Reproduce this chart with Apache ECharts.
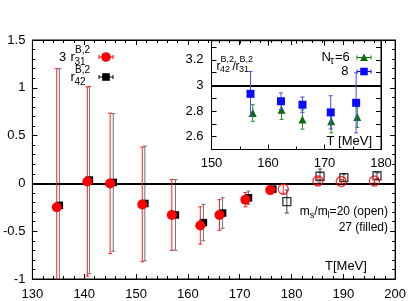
<!DOCTYPE html>
<html><head><meta charset="utf-8">
<script src="https://cdn.jsdelivr.net/npm/echarts@6/dist/echarts.min.js"></script>
<style>html,body{margin:0;padding:0;background:#fff}#c{width:409px;height:301px}</style>
</head><body><div id="c"></div>
<script>
// ---- main plot data: m_s/m_l = 27 (filled) ----
const r31T27 = [134.7, 140.6, 145.0, 151.2, 156.9, 162.4, 166.1, 171.1, 175.9];
const r31V27 = [-0.25, 0.02, 0.00, -0.22, -0.33, -0.44, -0.33, -0.17, -0.07];
const r31E27 = [1.45, 0.99, 0.735, 0.60, 0.37, 0.195, 0.16, 0.075, 0.03];
const r42T27 = [135.2, 141.0, 145.6, 151.7, 157.6, 163.0, 166.7, 171.7, 176.4];
const r42V27 = [-0.23, 0.035, 0.01, -0.21, -0.33, -0.41, -0.31, -0.15, -0.06];
const r42E27 = [1.43, 0.98, 0.72, 0.60, 0.37, 0.19, 0.16, 0.07, 0.03];
// ---- m_s/m_l = 20 (open) ----
const r31T20 = [178.4, 185.1, 189.6, 196.0];
const r31V20 = [-0.06, 0.025, 0.02, 0.025];
const r31E20 = [0.05, 0.04, 0.02, 0.02];
const r42T20 = [179.1, 185.5, 190.1, 196.5];
const r42V20 = [-0.19, 0.075, 0.06, 0.08];
const r42E20 = [0.12, 0.075, 0.035, 0.03];
// ---- inset: r42/r31 ----
const insNt8T = [156.9, 162.3, 166.1, 171.1, 175.6];
const insNt8V = [2.935, 2.877, 2.85, 2.79, 2.865];
const insNt8E = [0.175, 0.065, 0.06, 0.13, 0.235];
const insNt6T = [157.3, 162.4, 166.1, 171.2, 175.8];
const insNt6V = [2.785, 2.81, 2.734, 2.72, 2.753];
const insNt6E = [0.065, 0.075, 0.075, 0.09, 0.08];
// ---- ticks ----
const mainXTicks = {min: 130, max: 200, interval: 10};
const mainYTicks = {min: -1, max: 1.5, interval: 0.5};
const insXTicks = {min: 150, max: 180, interval: 10};
const insYTicks = {min: 2.5, max: 3.35, interval: 0.1};
const insYLabels = [2.6, 2.8, 3.0, 3.2];

const FONT = '"Liberation Sans", Arial, Helvetica, sans-serif';
const zip = (a, b, c) => a.map((v, i) => c ? [v, b[i], c[i]] : [v, b[i]]);
const mctx = document.createElement('canvas').getContext('2d');
function tw(s, size) { mctx.font = size + 'px ' + FONT; return mctx.measureText(s).width; }

function errSeries(xi, yi, T, V, E, color, cap, z) {
  return {
    type: 'custom', xAxisIndex: xi, yAxisIndex: yi, clip: true, z: z,
    data: zip(T, V, E), encode: {x: 0, y: 1},
    renderItem: function (params, api) {
      const x = api.value(0), y = api.value(1), e = api.value(2);
      const c = api.coord([x, y]), t = api.coord([x, y + e]), b = api.coord([x, y - e]);
      const st = {stroke: color, lineWidth: 1};
      return {type: 'group', children: [
        {type: 'line', shape: {x1: c[0], y1: t[1], x2: c[0], y2: b[1]}, style: st},
        {type: 'line', shape: {x1: c[0] - cap, y1: t[1], x2: c[0] + cap, y2: t[1]}, style: st},
        {type: 'line', shape: {x1: c[0] - cap, y1: b[1], x2: c[0] + cap, y2: b[1]}, style: st}
      ]};
    }
  };
}
function pts(xi, yi, T, V, symbol, size, color, open, z) {
  return {
    type: 'scatter', xAxisIndex: xi, yAxisIndex: yi, symbol: symbol, symbolSize: size, z: z,
    data: zip(T, V), silent: true,
    itemStyle: open ? {color: 'rgba(255,255,255,0)', borderColor: color, borderWidth: 1.3}
                    : {color: color, opacity: 1}
  };
}
function axisCommon(o) {
  return Object.assign({
    type: 'value',
    axisLine: {show: true, onZero: false, lineStyle: {color: '#000', width: 1}},
    axisTick: {show: true, inside: true, length: 5, lineStyle: {color: '#000'}},
    minorTick: {show: true, splitNumber: 5, length: 3, lineStyle: {color: '#000'}},
    splitLine: {show: false},
    axisLabel: {color: '#000', fontSize: 13, fontFamily: FONT}
  }, o);
}
function txt(x, y, s, size, align) {
  return {type: 'text', x: x, y: y, z: 100,
    style: {text: s, fill: '#000', fontSize: size, fontFamily: FONT, align: align || 'left', verticalAlign: 'middle'}};
}
function legendMark(x, y, symbol, color) {
  const st = {stroke: color, lineWidth: 1};
  const g = [
    {type: 'line', shape: {x1: x - 7, y1: y, x2: x + 7, y2: y}, style: st},
    {type: 'line', shape: {x1: x - 7, y1: y - 2, x2: x - 7, y2: y + 2}, style: st},
    {type: 'line', shape: {x1: x + 7, y1: y - 2, x2: x + 7, y2: y + 2}, style: st}
  ];
  if (symbol === 'circle') g.push({type: 'circle', shape: {cx: x, cy: y, r: 4.8}, style: {fill: color}});
  if (symbol === 'rect') g.push({type: 'rect', shape: {x: x - 3.8, y: y - 3.8, width: 7.6, height: 7.6}, style: {fill: color}});
  if (symbol === 'tri') g.push({type: 'polygon', shape: {points: [[x, y - 4], [x - 4, y + 3.5], [x + 4, y + 3.5]]}, style: {fill: color}});
  return {type: 'group', z: 100, children: g};
}
// right-aligned run of text pieces: [text, size, dy]
function run(xRight, y, pieces) {
  const out = [];
  let x = xRight;
  for (let i = pieces.length - 1; i >= 0; i--) {
    const p = pieces[i];
    x -= tw(p[0], p[1]);
    out.push(txt(x, y + p[2], p[0], p[1]));
  }
  return out;
}

const chart = echarts.init(document.getElementById('c'), null, {renderer: 'canvas'});
const option = {
  animation: false,
  backgroundColor: '#fff',
  grid: [
    {left: 32, top: 40, width: 365, height: 239, show: true, borderColor: '#000', borderWidth: 1, backgroundColor: '#fff'},
    {left: 211.5, top: 40.7, width: 169.5, height: 108.8, show: true, borderColor: '#000', borderWidth: 1, backgroundColor: 'rgba(255,255,255,0)'}
  ],
  xAxis: [
    axisCommon(Object.assign({gridIndex: 0, position: 'bottom', axisLabel: {color: '#000', fontSize: 13, fontFamily: FONT, margin: 9}}, mainXTicks)),
    axisCommon(Object.assign({gridIndex: 0, position: 'top', axisLabel: {show: false}}, mainXTicks)),
    axisCommon(Object.assign({gridIndex: 1, position: 'bottom', minorTick: {show: true, splitNumber: 2, length: 3, lineStyle: {color: '#000'}},
      axisLabel: {color: '#000', fontSize: 13, fontFamily: FONT, margin: 7}}, insXTicks)),
    axisCommon(Object.assign({gridIndex: 1, position: 'top', minorTick: {show: true, splitNumber: 2, length: 3, lineStyle: {color: '#000'}}, axisLabel: {show: false}}, insXTicks))
  ],
  yAxis: [
    axisCommon(Object.assign({gridIndex: 0, position: 'left', axisLabel: {color: '#000', fontSize: 13, fontFamily: FONT, margin: 7}}, mainYTicks)),
    axisCommon(Object.assign({gridIndex: 0, position: 'right', axisLabel: {show: false}}, mainYTicks)),
    axisCommon(Object.assign({gridIndex: 1, position: 'left', minorTick: {show: false},
      axisLabel: {color: '#000', fontSize: 13, fontFamily: FONT, margin: 8,
        formatter: function (v) { const r = Math.round(v * 10) / 10; return insYLabels.some(l => Math.abs(l - r) < 1e-6) ? String(r) : ''; }}}, insYTicks)),
    axisCommon(Object.assign({gridIndex: 1, position: 'right', minorTick: {show: false}, axisLabel: {show: false}}, insYTicks))
  ],
  series: [
    {type: 'line', xAxisIndex: 0, yAxisIndex: 0, data: [], z: 3,
     markLine: {silent: true, symbol: 'none', label: {show: false}, lineStyle: {color: '#000', width: 2, type: 'solid'}, data: [{yAxis: 0}]}},
    errSeries(0, 0, r42T27, r42V27, r42E27, '#707070', 2, 4),
    pts(0, 0, r42T27, r42V27, 'rect', 7.5, '#000', false, 5),
    errSeries(0, 0, r31T27, r31V27, r31E27, '#ff2020', 2, 6),
    pts(0, 0, r31T27, r31V27, 'circle', 10, '#ff0000', false, 7),
    errSeries(0, 0, r42T20, r42V20, r42E20, '#404040', 2, 4),
    pts(0, 0, r42T20, r42V20, 'rect', 8, '#000', true, 5),
    errSeries(0, 0, r31T20, r31V20, r31E20, '#ff2020', 2, 6),
    pts(0, 0, r31T20, r31V20, 'circle', 10, '#ff0000', true, 7),
    {type: 'line', xAxisIndex: 2, yAxisIndex: 2, data: [], z: 3,
     markLine: {silent: true, symbol: 'none', label: {show: false}, lineStyle: {color: '#000', width: 2, type: 'solid'}, data: [{yAxis: 3}]}},
    errSeries(2, 2, insNt6T, insNt6V, insNt6E, '#2a8a2a', 2, 4),
    pts(2, 2, insNt6T, insNt6V, 'triangle', 8, '#0a6e0a', false, 5),
    errSeries(2, 2, insNt8T, insNt8V, insNt8E, '#4a4aff', 2, 6),
    pts(2, 2, insNt8T, insNt8V, 'rect', 8, '#0a0aff', false, 7)
  ],
  graphic: [].concat(
    [txt(59, 57, '3', 13), txt(70.5, 57, 'r', 13), txt(74.5, 62.5, '31', 10), txt(75, 50.5, 'B,2', 10),
     txt(70.5, 77, 'r', 13), txt(74.5, 82, '42', 10), txt(75, 70, 'B,2', 10),
     legendMark(106, 57, 'circle', '#ff0000'),
     legendMark(106, 77, 'rect', '#000')],
    run(388, 211.5, [['m', 12, 0], ['s', 9, 4], ['/m', 12, 0], ['l', 9, 4], ['=20 (open)', 12, 0]]),
    [txt(388, 227.5, '27 (filled)', 12, 'right'),
     txt(325, 266.5, 'T[MeV]', 13),
     txt(216.5, 66.5, 'r', 12), txt(220, 70, '42', 9), txt(220.5, 60, 'B,2', 9),
     txt(232.5, 66.5, '/', 12), txt(235.5, 66.5, 'r', 12), txt(239, 70, '31', 9), txt(239.5, 60, 'B,2', 9),
     txt(321.5, 57, 'N', 13), txt(330, 61, 'τ', 10), txt(335, 57, '=6', 13),
     txt(348.5, 71.5, '8', 13, 'right'),
     legendMark(364, 57.5, 'tri', '#0a6e0a'),
     legendMark(364, 71.5, 'rect', '#0a0aff'),
     txt(372, 141.5, 'T [MeV]', 13, 'right')]
  )
};
chart.setOption(option);
</script>
</body></html>
